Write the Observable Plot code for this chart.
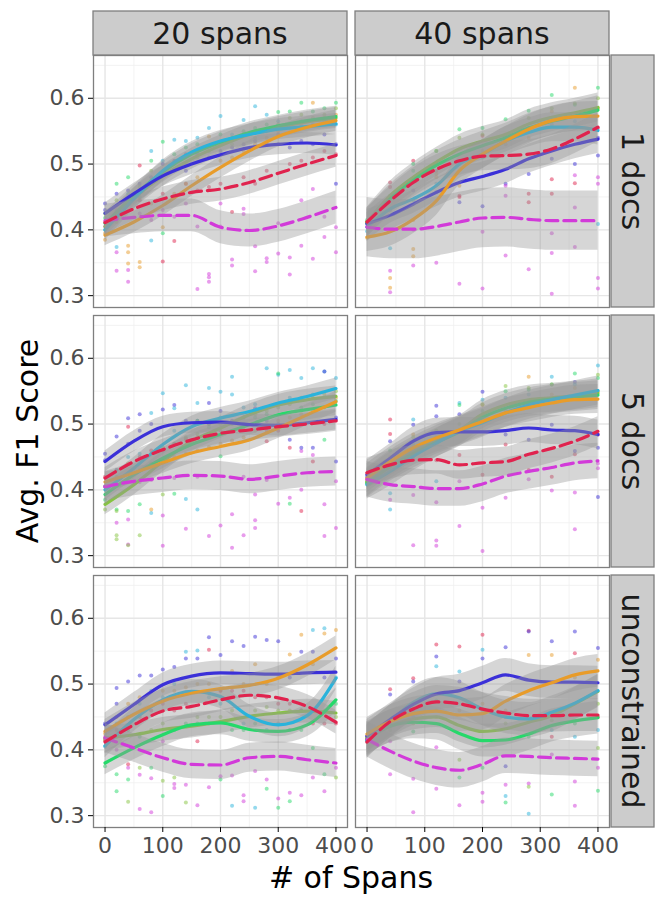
<!DOCTYPE html>
<html>
<head>
<meta charset="utf-8">
<script src="https://cdn.jsdelivr.net/npm/d3@7"></script>
<script src="https://cdn.jsdelivr.net/npm/@observablehq/plot@0.6"></script>
<style>
  html, body { margin: 0; padding: 0; background: #fff; }
  g[aria-label="x-axis tick label"], g[aria-label="y-axis tick label"] { fill: #4d4d4d; }
  g[aria-label="x-axis tick"], g[aria-label="y-axis tick"] { stroke: #333; }
</style>
</head>
<body>
<div id="chart"></div>
<script>
// ---------- categories ----------
const spans = ["20 spans", "40 spans"];
const docs = ["1 docs", "5 docs", "unconstrained"];
// drawing order of the series (each: band then line)
const seriesKeys = ["L", "G", "C", "B", "O", "M", "R"];
const seriesColors = ["#86c440", "#25d96a", "#2ab3db", "#3b30d8", "#e89c2a", "#d23ad9", "#e0234e"];
const dashedSeries = ["R", "M"];
const xTicks = [0, 100, 200, 300, 400];
const xMinor = [50, 150, 250, 350];
const yTicks = [0.3, 0.4, 0.5, 0.6];
const yMinor = [0.35, 0.45, 0.55, 0.65];

// ---------- smoothed fits (x grid per span setting) ----------
const xs20 = [0, 50, 100, 150, 200, 250, 300, 350, 400];
const xs40 = [0, 40, 80, 120, 160, 200, 240, 280, 320, 360, 400];

const fit20_1 = {
  R: [.411, .432, .447, .457, .462, .472, .486, .500, .513],
  O: [.392, .412, .437, .467, .495, .520, .542, .556, .566],
  L: [.405, .448, .482, .508, .528, .545, .556, .564, .570],
  G: [.410, .452, .488, .515, .533, .548, .558, .566, .572],
  C: [.400, .447, .490, .518, .535, .545, .553, .557, .561],
  B: [.425, .455, .482, .500, .514, .525, .530, .532, .529],
  M: [.414, .419, .422, .422, .404, .399, .406, .419, .434]
};
const fit40_1 = {
  R: [.412, .444, .472, .492, .505, .512, .513, .515, .523, .538, .556],
  O: [.389, .397, .416, .444, .490, .515, .535, .553, .566, .572, .573],
  L: [.412, .452, .480, .503, .523, .535, .545, .561, .571, .578, .586],
  G: [.410, .447, .475, .498, .515, .528, .540, .555, .565, .573, .582],
  C: [.404, .432, .447, .467, .500, .515, .535, .548, .556, .556, .551],
  B: [.409, .422, .439, .457, .472, .481, .492, .508, .520, .530, .538],
  M: [.404, .401, .401, .405, .412, .418, .419, .416, .414, .414, .414]
};
const fit20_5 = {
  R: [.418, .443, .461, .476, .486, .491, .496, .500, .505],
  O: [.412, .426, .441, .456, .466, .476, .494, .514, .534],
  L: [.378, .408, .443, .474, .494, .514, .529, .537, .542],
  G: [.393, .423, .448, .469, .484, .499, .514, .522, .529],
  C: [.400, .433, .469, .496, .509, .519, .532, .542, .554],
  B: [.443, .474, .496, .502, .503, .499, .498, .502, .507],
  M: [.405, .413, .418, .422, .421, .416, .421, .426, .428]
};
const fit40_5 = {
  R: [.426, .438, .445, .446, .438, .441, .443, .454, .463, .474, .489],
  O: [.418, .443, .464, .479, .491, .504, .517, .525, .532, .537, .538],
  L: [.412, .438, .459, .476, .491, .515, .529, .537, .540, .543, .547],
  G: [.410, .435, .455, .472, .488, .510, .524, .533, .538, .541, .544],
  C: [.408, .428, .451, .471, .489, .502, .517, .529, .537, .544, .551],
  B: [.423, .448, .474, .487, .488, .488, .490, .494, .491, .490, .484],
  M: [.416, .408, .405, .402, .402, .409, .421, .428, .434, .441, .444]
};
const fit20_u = {
  R: [.412, .438, .459, .466, .476, .483, .479, .466, .442],
  O: [.428, .454, .474, .486, .493, .498, .509, .529, .555],
  L: [.418, .423, .431, .436, .443, .451, .456, .459, .456],
  G: [.380, .403, .423, .438, .441, .431, .428, .438, .476],
  C: [.406, .446, .476, .489, .481, .451, .438, .452, .509],
  B: [.438, .469, .499, .512, .517, .516, .515, .517, .518],
  M: [.418, .403, .388, .378, .377, .388, .390, .385, .380]
};
const fit40_u = {
  R: [.412, .443, .462, .473, .470, .462, .456, .452, .452, .453, .453],
  O: [.424, .443, .455, .459, .453, .455, .474, .490, .502, .514, .520],
  L: [.418, .436, .447, .450, .437, .428, .432, .442, .452, .470, .489],
  G: [.416, .436, .442, .440, .425, .414, .415, .424, .437, .444, .449],
  C: [.414, .443, .472, .485, .479, .462, .450, .447, .457, .471, .490],
  B: [.421, .446, .469, .485, .490, .502, .514, .506, .503, .503, .502],
  M: [.416, .398, .383, .373, .369, .378, .391, .390, .388, .387, .386]
};

// confidence band half-widths per panel
const band20_1 = {R: .018, O: .016, L: .016, G: .016, C: .016, B: .016, M: .025};
const band40_1 = {R: .022, O: .022, L: .022, G: .022, C: .022, B: .022, M: .045};
const band20_5 = {R: .016, O: .016, L: .016, G: .016, C: .016, B: .016, M: .022};
const band40_5 = {R: .022, O: .022, L: .022, G: .022, C: .022, B: .022, M: .027};
const band20_u = {R: .018, O: .018, L: .018, G: .018, C: .018, B: .018, M: .022};
const band40_u = {R: .025, O: .025, L: .025, G: .025, C: .025, B: .025, M: .027};

// ---------- raw run scores: "x  S###" (series letter + score in thousandths) ----------
const pts20_1 = `0 R412 O385 B430 C400 G418 L425 M405 B440 O395;20 M338 C374 M366 G470 B455 L445 O412 R428 C430;40 M321 O376 O366 O349 M339 G480 B460 C455 R440;60 O351 O343 R498 B470 L465 C460 G450 M425 R445;80 C384 G505 C520 B480 L490 R470 O440 M415 G475;100 R352 G534 O404 G395 B500 C505 L485 M430 R455;120 C537 R383 B505 G515 L500 O455 M420 C490;140 C535 G525 B515 L500 R470 O470 M440 B490;160 M310 C540 G530 B515 L510 O480 R460 M405;180 C555 M328 M321 M333 O542 G520 B510 R465;200 C573 G545 B520 L530 O505 R470 M405 M440;220 M355 M346 R427 G540 C545 B525 O510 L530;240 C567 M432 M424 G550 B530 O520 R480 L545;260 C588 M337 M375 G555 B535 O530 R470 L540;280 M357 M351 C575 G560 O540 B530 R490 L550;300 G579 M364 R545 C565 O550 B530 L560 M410;320 M332 M358 G580 C560 O555 B525 R500 L570;340 G593 M376 M445 C565 O560 B535 R505 L575;360 O593 M356 M462 G580 C560 B530 R510 L570;380 M389 B545 G585 C565 O570 R520 L575 M420;400 G593 M366 M404 B470 C560 O575 R515 L585 B530`;
const pts40_1 = `0 M405 C398 R412 O388 B410 G415 L412;40 R472 R465 M338 O327 O312 M305 C372 G452 B430 L445;80 R505 G500 G490 O371 O360 M346 B460 C445 O415 M400;120 M350 G520 O480 B457 C470 R490 O485 L520;160 G553 M318 R452 R450 B442 O467 C500 L540;200 G555 M311 M397 B436 R543 L545 C510 O520;240 G568 M361 B470 M452 M467 C540 R545 O530;280 G581 M340 R455 R442 B485 C555 O540 L570;320 G605 M303 M365 M395 R477 R455 B508 O580 C560 L585;360 O616 M374 M483 M434 R471 B500 G590 C565 L592;400 G616 M311 M327 M480 M470 B513 C409 B540 O585 R555 L600`;
const pts20_5 = `0 R420 O405 B445 C405 G385 L370 M405 B455;20 G370 L368 M350 L331 L325 B481 R430 C430 O420;40 M317 L316 B509 R496 G368 M355 C450 O440 B470;60 B515 G378 L331 B490 R450 O430 M412 C455;80 C517 C365 O370 B500 G455 L440 M415 R460;100 C547 M361 M315 B522 L393 G465 O445 R460;120 B529 C524 G394 L470 R470 O450 M418 C490;140 C559 M341 C386 B505 G475 O455 R478 L480;160 C532 B505 G505 C370 R480 O460 L485 M420;180 C555 M330 B532 G495 O465 R485 L500 B500;200 M346 C549 B520 G451 R490 O470 L500 C510;220 C572 M363 M312 C545 B505 O475 R490 G500;240 C525 M331 B510 G500 R495 O480 L510 M420;260 C530 M354 M393 M342 B524 G510 O490 L515;280 C585 G515 B505 R474 R490 O495 L520 M415;300 C575 G577 M379 B500 R490 O505 L525;320 C582 B476 G379 M388 R464 L530 O510 C540;340 C570 M400 M459 R368 B464 G525 O515 L540;360 C585 B464 R443 M453 G530 O520 L540 C545;380 C580 B580 M378 M330 G476 R500 O525 L545;400 C570 M342 M413 B443 G535 O540 R505 L550 B510`;
const pts40_5 = `0 R425 O415 B420 C408 G412 L412 M416;40 R507 R485 M385 C370 B474 C395 G460 O450 L440;80 C507 B499 M316 M392 O484 R448 G470 L480;120 B528 M323 M315 M381 B512 C413 G490 R445 O480 L490;160 C532 G529 M345 B515 R453 M413 O490 L500;200 B549 M307 M373 C537 O529 R423 G520 L530;240 L558 M388 R469 B484 C540 O520 G550;280 O572 G552 M416 B476 R430 C545 L555;320 C572 M399 B499 R420 G560 O545 L560;360 G577 B564 M340 M396 R454 B459 C560 O555;400 C589 B389 M433 B464 R484 G570 L575 O550 M440`;
const pts20_u = `0 R415 O425 B440 C405 G375 L415 M420;20 B494 G363 G337 M400 B470 C440 O450 R430 L420;40 B504 G355 L321 R378 M373 O470 C450 G430;60 B513 M362 M310 L373 O480 C470 R450 G420;80 B513 M357 M305 G373 C490 R460 L430;100 B522 L353 G330 M413 O490 C480 R470 L440;120 B526 M348 M342 L358 C500 O490 R460 G430;140 C549 M347 L320 B539 O495 R470 G440;160 C551 M316 B539 R413 O500 G440 L450;180 B571 M343 R552 O500 C480 G440 L450;200 B544 M360 G355 O490 C470 R490 L450;220 B565 C315 M361 O520 R490 G430 L460;240 B558 M331 M322 R490 O500 C440 G430;260 B572 C312 M368 O530 R480 G440 L460;280 B567 G341 M355 O500 C430 R480 L465;300 B565 M326 G312 O510 R470 C440 L460;320 O545 M335 G322 B510 C430 R470 L460;340 O575 M331 B549 C460 R460 G430 L460;360 C582 M358 B549 G403 O530 R440;380 O577 C585 M337 G363 B510 R440 L460;400 O582 M373 L358 B539 C510 R440 G470 L450`;
const pts40_u = `0 R412 O420 B420 C415 G415 L418 M416;40 R492 M363 B484 C440 O445 G440 M413 L430;80 R509 M305 M356 B504 G428 O460 C450 L440;120 R560 M341 B542 C527 M404 G475 O450 L460;160 R557 M316 L385 G358 B504 C519 O460;200 R575 M321 M335 C552 B539 G373 O470 L460;240 B556 M347 G320 C330 B375 R450 O460 L440;280 R581 M349 L344 C303 B580 O544 G420;320 B565 M393 G332 O544 R420 C430 L445;360 B580 M315 M352 R547 C420 O510 G440;400 B555 M373 G338 O537 L403 C430 R450 L470`;

// ---------- build tables ----------
const panels = [
  {span: spans[0], doc: docs[0], xs: xs20, fit: fit20_1, band: band20_1, pts: pts20_1},
  {span: spans[1], doc: docs[0], xs: xs40, fit: fit40_1, band: band40_1, pts: pts40_1},
  {span: spans[0], doc: docs[1], xs: xs20, fit: fit20_5, band: band20_5, pts: pts20_5},
  {span: spans[1], doc: docs[1], xs: xs40, fit: fit40_5, band: band40_5, pts: pts40_5},
  {span: spans[0], doc: docs[2], xs: xs20, fit: fit20_u, band: band20_u, pts: pts20_u},
  {span: spans[1], doc: docs[2], xs: xs40, fit: fit40_u, band: band40_u, pts: pts40_u}
];

const fitRows = [];
const pointRows = [];
for (const p of panels) {
  for (const s of seriesKeys) {
    p.fit[s].forEach((v, i) => fitRows.push({
      span: p.span, doc: p.doc, s, x: p.xs[i], y: v, lo: v - p.band[s], hi: v + p.band[s]
    }));
  }
  for (const col of p.pts.split(";")) {
    const [x, ...vals] = col.trim().split(/\s+/);
    for (const t of vals) pointRows.push({span: p.span, doc: p.doc, s: t[0], x: +x, y: +t.slice(1) / 1000});
  }
}
const colorOf = Object.fromEntries(seriesKeys.map((s, i) => [s, seriesColors[i]]));

// ---------- plot ----------
const W = 665, H = 906;
const mL = 92, mR = 55, mT = 55, mB = 79;

const seriesMarks = seriesKeys.flatMap(s => {
  const rows = fitRows.filter(d => d.s === s);
  return [
    Plot.areaY(rows, {x: "x", y1: "lo", y2: "hi", fx: "span", fy: "doc", fill: "#999999", fillOpacity: 0.4, curve: "monotone-x"}),
    Plot.line(rows, {x: "x", y: "y", fx: "span", fy: "doc", stroke: colorOf[s], strokeWidth: 3.2,
      strokeDasharray: dashedSeries.includes(s) ? "12,6" : null, curve: "monotone-x"})
  ];
});

const fig = Plot.plot({
  width: W, height: H,
  marginLeft: mL, marginRight: mR, marginTop: mT, marginBottom: mB,
  style: {fontFamily: "DejaVu Sans", fontSize: "22px", background: "#fff", overflow: "visible"},
  x: {domain: [-20, 420]},
  y: {domain: [0.282, 0.665]},
  fx: {domain: spans, paddingInner: 0.0304, paddingOuter: 0, axis: null},
  fy: {domain: docs, paddingInner: 0.0308, paddingOuter: 0, axis: null},
  marks: [
    Plot.gridX(xMinor, {stroke: "#f0f0f0", strokeOpacity: 1, strokeWidth: 0.8}),
    Plot.gridY(yMinor, {stroke: "#f0f0f0", strokeOpacity: 1, strokeWidth: 0.8}),
    Plot.gridX(xTicks, {stroke: "#e6e6e6", strokeOpacity: 1, strokeWidth: 1.4}),
    Plot.gridY(yTicks, {stroke: "#e6e6e6", strokeOpacity: 1, strokeWidth: 1.4}),
    Plot.dot(pointRows, {x: "x", y: "y", fx: "span", fy: "doc", r: 2, fill: d => colorOf[d.s], fillOpacity: 0.5}),
    ...seriesMarks,
    Plot.frame({stroke: "#7f7f7f", strokeWidth: 1.3}),
    Plot.axisX(xTicks, {tickSize: 5, tickPadding: 5, fontSize: 22, label: null}),
    Plot.axisY(yTicks, {tickSize: 5, tickPadding: 4, fontSize: 22, label: null, tickFormat: d => d.toFixed(1)})
  ]
});

document.getElementById("chart").appendChild(fig);

// ---------- facet strips and axis titles ----------
const svg = d3.select(fig);
const fxS = fig.scale("fx"), fyS = fig.scale("fy");
const strips = svg.append("g").attr("font-family", "DejaVu Sans");
for (const v of spans) {
  const x0 = fxS.apply(v), w = fxS.bandwidth;
  strips.append("rect").attr("x", x0).attr("y", 11).attr("width", w).attr("height", mT - 11)
    .attr("fill", "#cccccc").attr("stroke", "#7f7f7f").attr("stroke-width", 1.3);
  strips.append("text").attr("x", x0 + w / 2).attr("y", 33).attr("dy", "0.35em")
    .attr("text-anchor", "middle").attr("font-size", 30).attr("fill", "#1a1a1a").text(v);
}
for (const v of docs) {
  const y0 = fyS.apply(v), h = fyS.bandwidth;
  const sx = W - mR + 1, sw = 43;
  strips.append("rect").attr("x", sx).attr("y", y0).attr("width", sw).attr("height", h)
    .attr("fill", "#cccccc").attr("stroke", "#7f7f7f").attr("stroke-width", 1.3);
  strips.append("text").attr("transform", `translate(${sx + sw / 2},${y0 + h / 2}) rotate(90)`)
    .attr("dy", "0.35em").attr("text-anchor", "middle").attr("font-size", 30).attr("fill", "#1a1a1a").text(v);
}
strips.append("text").attr("x", mL + (W - mR - mL) / 2).attr("y", 888)
  .attr("text-anchor", "middle").attr("font-size", 30).attr("fill", "#000").text("# of Spans");
strips.append("text").attr("transform", `translate(38,${mT + (H - mB - mT) / 2}) rotate(-90)`)
  .attr("text-anchor", "middle").attr("font-size", 30).attr("fill", "#000").text("Avg. F1 Score");
</script>
</body>
</html>
